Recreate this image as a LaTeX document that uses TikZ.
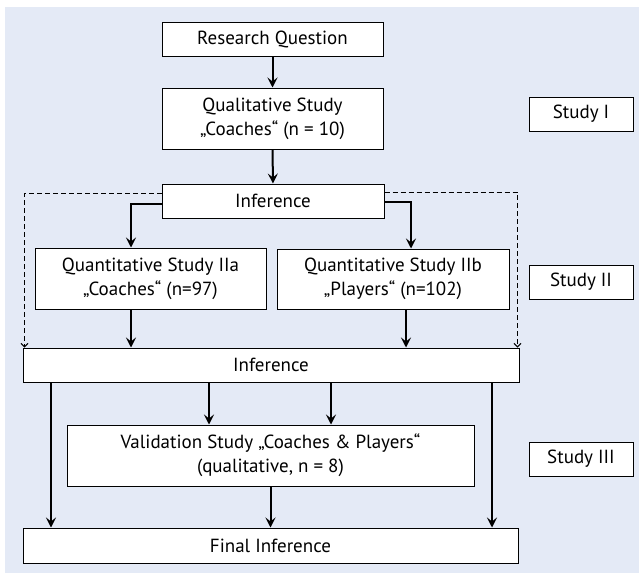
\documentclass[tikz,border=0pt]{standalone}
\usepackage{fontspec}
\setmainfont{PT Sans}
\usetikzlibrary{arrows.meta,calc}
\definecolor{bgblue}{RGB}{228,234,246}
\tikzset{
  box/.style={draw=black, line width=1pt, fill=white, inner sep=0pt, align=center, font=\fontsize{19}{24}\selectfont},
  arr/.style={line width=2pt, -{Stealth[length=10pt,width=10pt,inset=4pt]}},
  darr/.style={line width=1pt, dash pattern=on 5pt off 3pt, -{Straight Barb[length=3.5pt,width=7pt]}}
}
\begin{document}
\begin{tikzpicture}[x=1pt,y=-1pt]
\useasboundingbox (0,0) rectangle (641,573);
\fill[bgblue] (4.5,7) rectangle (639,573);
\node[box, minimum width=221pt, minimum height=34pt] (rq) at (272.5,39) {Research Question};
\node[box, minimum width=221pt, minimum height=61pt] (qual) at (272.5,118.5) {Qualitative Study\\„Coaches“ (n = 10)};
\node[box, minimum width=222pt, minimum height=34pt] (inf1) at (273,201) {Inference};
\node[box, minimum width=231pt, minimum height=61pt] (qa) at (150.5,278.5) {Quantitative Study IIa\\„Coaches“ (n=97)};
\node[box, minimum width=232pt, minimum height=60pt] (qb) at (393,279) {Quantitative Study IIb\\„Players“ (n=102)};
\node[box, minimum width=104pt, minimum height=34pt] (s1) at (581,114) {Study I};
\node[box, minimum width=104pt, minimum height=34pt] (s2) at (581,282) {Study II};
\node[box, minimum width=104pt, minimum height=34pt] (s3) at (581,459) {Study III};
\node[box, minimum width=496pt, minimum height=34pt] (inf2) at (271,365) {Inference};
\node[box, minimum width=407pt, minimum height=61pt] (val) at (270.5,455.5) {Validation Study „Coaches \& Players“\\(qualitative, n = 8)};
\node[box, minimum width=495pt, minimum height=35pt] (fin) at (270.5,545.5) {Final Inference};

\draw[arr] (rq.south) -- (qual.north);
\draw[arr] (qual.south) -- (inf1.north);
\draw[arr] ([yshift=-3pt]inf1.west) -| ([xshift=-19.5pt]qa.north);
\draw[arr] ([yshift=-1pt]inf1.east) -| ([xshift=18pt]qb.north);
\draw[darr] ([yshift=8pt]inf1.west) -| ([xshift=2pt]inf2.north west);
\draw[darr] ([yshift=9pt]inf1.east) -| ([xshift=-2pt]inf2.north east);
\draw[arr] ([xshift=-19.5pt]qa.south) -- ([xshift=-19.5pt]qa.south |- inf2.north);
\draw[arr] ([xshift=13pt]qb.south) -- ([xshift=13pt]qb.south |- inf2.north);
\draw[arr] ([xshift=-62pt]inf2.south) -- ([xshift=-62pt]inf2.south |- val.north);
\draw[arr] ([xshift=60pt]inf2.south) -- ([xshift=60pt]inf2.south |- val.north);
\draw[arr] ([xshift=-220pt]inf2.south) -- ([xshift=-220pt]inf2.south |- fin.north);
\draw[arr] ([xshift=221pt]inf2.south) -- ([xshift=221pt]inf2.south |- fin.north);
\draw[arr] (val.south) -- (val.south |- fin.north);
\end{tikzpicture}
\end{document}
